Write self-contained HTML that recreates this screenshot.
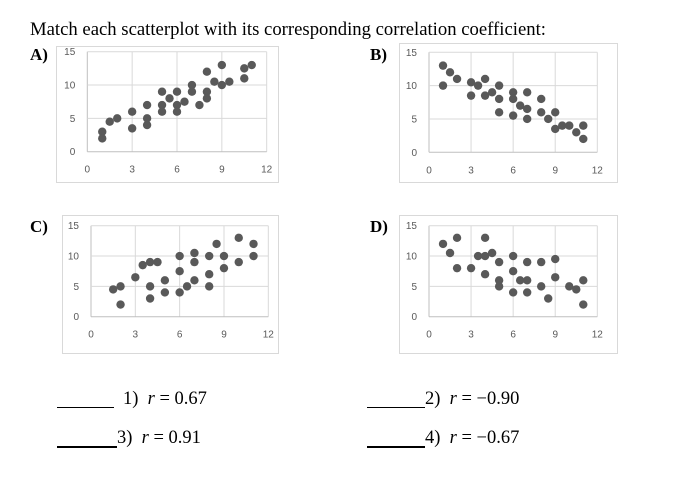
<!DOCTYPE html>
<html><head><meta charset="utf-8"><style>
body{margin:0;width:684px;height:484px;background:#fff;overflow:hidden;position:relative;font-family:"Liberation Serif",serif;}
.t{position:absolute;white-space:nowrap;color:#000;}
</style></head><body>
<div class="t" style="left:30px;top:19px;font-size:18.7px;">Match each scatterplot with its corresponding correlation coefficient:</div>
<svg id="svg" width="684" height="484" style="position:absolute;left:0;top:0"></svg>
<div class="t" style="left:57px;top:389px;font-size:18.5px;"><span style="display:inline-block;width:57px;border-bottom:1px solid #000;height:18px;vertical-align:top"></span><span style="margin-left:9px">1)&nbsp; <i>r</i> = 0.67</span></div>
<div class="t" style="left:57px;top:428px;font-size:18.5px;"><span style="display:inline-block;width:60px;border-bottom:2px solid #000;height:18px;vertical-align:top"></span><span>3)&nbsp; <i>r</i> = 0.91</span></div>
<div class="t" style="left:367px;top:389px;font-size:18.5px;"><span style="display:inline-block;width:58px;border-bottom:1px solid #000;height:18px;vertical-align:top"></span><span>2)&nbsp; <i>r</i> = −0.90</span></div>
<div class="t" style="left:367px;top:428px;font-size:18.5px;"><span style="display:inline-block;width:58px;border-bottom:2px solid #000;height:18px;vertical-align:top"></span><span>4)&nbsp; <i>r</i> = −0.67</span></div>
<script>
const xTicks=[0,3,6,9,12];
const yTicks=[0,5,10,15];
const aX=[1,1,1.5,2,3,3,4,4,4,5,5,5,5.5,6,6,6,6.5,7,7,7.5,8,8,8,8.5,9,9,9.5,10.5,10.5,11];
const aY=[3,2,4.5,5,6,3.5,7,5,4,9,7,6,8,9,7,6,7.5,10,9,7,12,9,8,10.5,13,10,10.5,12.5,11,13];
const bX=[1,1,1.5,2,3,3,3.5,4,4,4.5,5,5,5,6,6,6,6.5,7,7,7,8,8,8.5,9,9,9.5,10,10.5,11,11];
const bY=[13,10,12,11,10.5,8.5,10,11,8.5,9,10,8,6,9,8,5.5,7,9,6.5,5,8,6,5,6,3.5,4,4,3,4,2];
const cX=[1.5,2,2,3,3.5,4,4.5,4,4,5,5,6,6,6,6.5,7,7,7,8,8,8,8.5,9,9,10,10,11,11];
const cY=[4.5,5,2,6.5,8.5,9,9,5,3,6,4,10,7.5,4,5,10.5,9,6,10,7,5,12,10,8,13,9,12,10];
const dX=[1,1.5,2,2,3,3.5,4,4,4,4.5,5,5,5,6,6,6,6.5,7,7,7,8,8,8.5,9,9,10,10.5,11,11];
const dY=[12,10.5,13,8,8,10,13,10,7,10.5,9,6,5,10,7.5,4,6,9,6,4,9,5,3,9.5,6.5,5,4.5,6,2];
const charts=[
 {n:'a',label:'A)',lx:30,ly:60,box:[56,46,222,136],x0:87.3,x1:266.7,yT:51.7,yB:151.7,xs:aX,ys:aY},
 {n:'b',label:'B)',lx:370,ly:60,box:[399,43,218,139],x0:429,x1:597.3,yT:52.3,yB:152.3,xs:bX,ys:bY},
 {n:'c',label:'C)',lx:30,ly:232,box:[62,215,216,138],x0:91,x1:268.3,yT:225.7,yB:316.7,xs:cX,ys:cY},
 {n:'d',label:'D)',lx:370,ly:232,box:[399,215,218,138],x0:429,x1:597.3,yT:225.7,yB:316.7,xs:dX,ys:dY}
];
const svg=document.getElementById('svg');
const NS='http://www.w3.org/2000/svg';
function mk(tag,attrs){const e=document.createElementNS(NS,tag);for(const k in attrs)e.setAttribute(k,attrs[k]);svg.appendChild(e);return e;}
charts.forEach(c=>{
 const sx=v=>c.x0+(v-0)/12*(c.x1-c.x0);
 const sy=v=>c.yB-(v/15)*(c.yB-c.yT);
 const b=mk('rect',{x:c.box[0]+.5,y:c.box[1]+.5,width:c.box[2],height:c.box[3],fill:'#fff',stroke:'#d9d9d9'});
 
 
 const l=mk('text',{x:c.lx,y:c.ly,'font-size':17,'font-weight':'bold','font-family':'Liberation Serif, serif'});
 l.textContent=c.label;
 
 
 xTicks.forEach(t=>{
  const g=mk('line',{x1:sx(t),x2:sx(t),y1:c.yT,y2:c.yB,stroke:t===0?'#bfbfbf':'#d9d9d9'});
  
  
  const tx=mk('text',{x:sx(t),y:c.yB+21,'font-size':10,fill:'#595959','text-anchor':'middle','font-family':'Liberation Sans, sans-serif'});
  tx.textContent=t;
  
  
 });
 yTicks.forEach(t=>{
  const g=mk('line',{x1:c.x0,x2:c.x1,y1:sy(t),y2:sy(t),stroke:t===0?'#bfbfbf':'#d9d9d9'});
  
  
  const tx=mk('text',{x:c.x0-12,y:sy(t)+3.5,'font-size':10,fill:'#595959','text-anchor':'end','font-family':'Liberation Sans, sans-serif'});
  tx.textContent=t;
  
  
 });
 c.xs.forEach((x,i)=>{
  const p=mk('circle',{cx:sx(x),cy:sy(c.ys[i]),r:4.2,fill:'#595959'});
  
  
 });
});
</script>
</body></html>
